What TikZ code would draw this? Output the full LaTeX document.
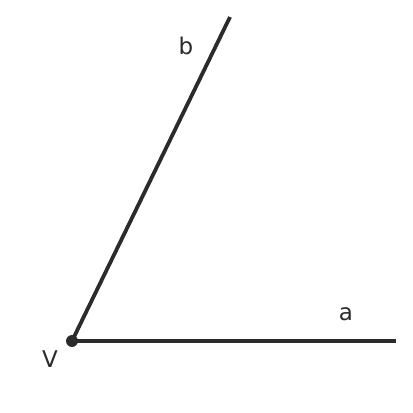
\documentclass[tikz,border=0pt]{standalone}
\usepackage{fontspec}
\setmainfont{DejaVu Sans}
\definecolor{raygray}{RGB}{43, 43, 43}
\usetikzlibrary{positioning}

\begin{document}
\begin{tikzpicture}[x=1pt, y=1pt,
  ray/.style={draw=raygray, line width=3.8pt},
  raylabel/.style={text=raygray, font=\fontsize{23}{26}\selectfont, inner sep=0pt}]
  \useasboundingbox (0, 0) rectangle (413, 413);
  % vertex and ray ends
  \coordinate (vtx) at (72, 72);
  \coordinate (aend) at (396, 72);
  \coordinate (bend) at (230, 396);
  \draw[ray] (vtx) -- (aend);
  \draw[ray] (vtx) -- (bend);
  \fill[raygray] (vtx) circle (6);
  % labels
  \node[raylabel] (alab) at (346, 99) {a};
  \node[raylabel] (blab) at (186, 367) {b};
  \node[raylabel] (vlab) at (50, 54) {V};
\end{tikzpicture}
\end{document}
